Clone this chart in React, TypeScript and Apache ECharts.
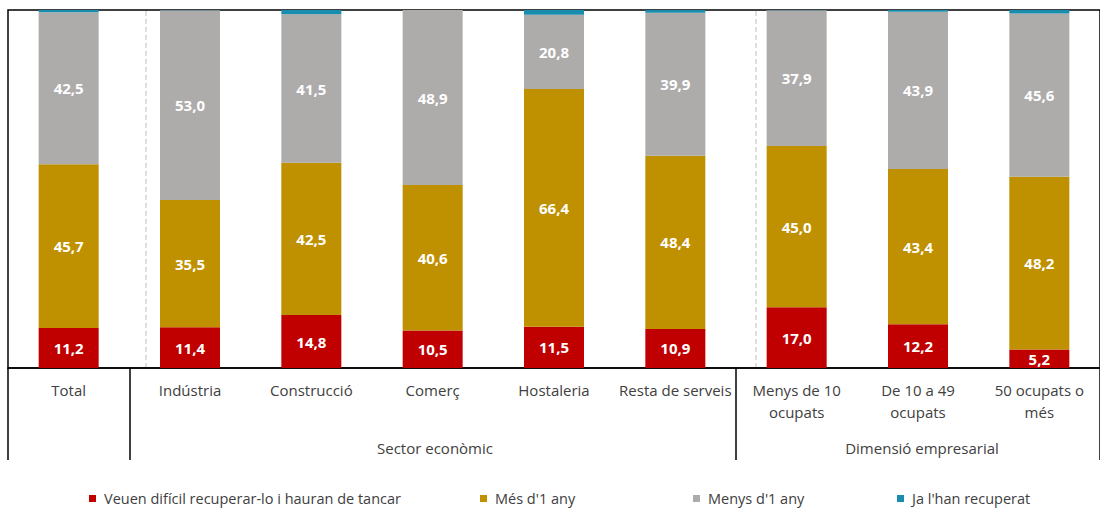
import React, { useEffect, useRef } from "react";
import * as echarts from "echarts";

const categories = [
  "Total",
  "Indústria",
  "Construcció",
  "Comerç",
  "Hostaleria",
  "Resta de serveis",
  "Menys de 10\nocupats",
  "De 10 a 49\nocupats",
  "50 ocupats o\nmés",
];
const seriesNames = [
  "Veuen difícil recuperar-lo i hauran de tancar",
  "Més d'1 any",
  "Menys d'1 any",
  "Ja l'han recuperat",
];
const redValues = [11.2, 11.4, 14.8, 10.5, 11.5, 10.9, 17.0, 12.2, 5.2];
const goldValues = [45.7, 35.5, 42.5, 40.6, 66.4, 48.4, 45.0, 43.4, 48.2];
const grayValues = [42.5, 53.0, 41.5, 48.9, 20.8, 39.9, 37.9, 43.9, 45.6];
const blueValues = [0.6, 0.1, 1.2, 0.0, 1.3, 0.8, 0.1, 0.5, 1.0];
const groupLabels = ["Sector econòmic", "Dimensió empresarial"];

const colors = ["#C00000", "#BF9000", "#AEABAB", "#1A8CAD"];
const FONT = "'Open Sans', 'Noto Sans', sans-serif";

export default function App() {
  const ref = useRef<HTMLDivElement>(null);
  useEffect(() => {
    if (!ref.current) return;
    const chart = echarts.init(ref.current, undefined, { renderer: "svg" });
    const fmt = (p: any) => Number(p.value).toFixed(1).replace(".", ",");
    const allValues = [redValues, goldValues, grayValues, blueValues];
    const series: any[] = allValues.map((vals, i) => ({
      name: seriesNames[i],
      type: "bar",
      stack: "total",
      barWidth: 60,
      data: vals,
      itemStyle: { color: colors[i] },
      label: {
        show: i < 3,
        position: "inside",
        color: "#fff",
        fontFamily: FONT,
        fontWeight: "bold",
        fontSize: 15,
        formatter: fmt,
      },
    }));
    const legendLefts = [89, 480, 693, 897];
    chart.setOption({
      animation: false,
      grid: {
        left: 8,
        top: 10,
        width: 1098,
        height: 358,
        show: true,
        borderColor: "#000",
        borderWidth: 1.5,
        backgroundColor: "transparent",
      },
      xAxis: {
        type: "category",
        data: categories,
        axisLine: { show: true, lineStyle: { color: "#000", width: 1.5 } },
        axisTick: {
          show: true,
          length: 92,
          interval: (i: number) => i === 0 || i === 1 || i === 6,
          lineStyle: { color: "#000", width: 1.5 },
        },
        axisLabel: {
          interval: 0,
          margin: 11,
          color: "#404040",
          fontFamily: FONT,
          fontSize: 15,
          lineHeight: 22,
          verticalAlign: "top",
        },
      },
      yAxis: {
        type: "value",
        min: 0,
        max: 100,
        show: false,
      },
      legend: seriesNames.map((n, i) => ({
        data: [n],
        left: legendLefts[i],
        top: 491,
        itemWidth: 7,
        itemHeight: 7,
        icon: "rect",
        padding: 0,
        textStyle: {
          color: "#404040",
          fontFamily: FONT,
          fontSize: 14.5,
          padding: [0, 0, 0, 3],
        },
      })),
      graphic: [
        {
          type: "line",
          shape: { x1: 146, y1: 11, x2: 146, y2: 367 },
          style: { stroke: "#BFBFBF", lineWidth: 1, lineDash: [5, 3] },
        },
        {
          type: "line",
          shape: { x1: 756, y1: 11, x2: 756, y2: 367 },
          style: { stroke: "#BFBFBF", lineWidth: 1, lineDash: [5, 3] },
        },
        {
          type: "text",
          x: 435,
          y: 448,
          style: {
            text: groupLabels[0],
            fill: "#404040",
            font: `15px ${FONT}`,
            align: "center",
            verticalAlign: "middle",
          },
        },
        {
          type: "text",
          x: 922,
          y: 448,
          style: {
            text: groupLabels[1],
            fill: "#404040",
            font: `15px ${FONT}`,
            align: "center",
            verticalAlign: "middle",
          },
        },
      ],
      series,
    });
    return () => chart.dispose();
  }, []);
  return (
    <div
      ref={ref}
      style={{ position: "absolute", left: 0, top: 0, width: 1100, height: 509 }}
    />
  );
}
